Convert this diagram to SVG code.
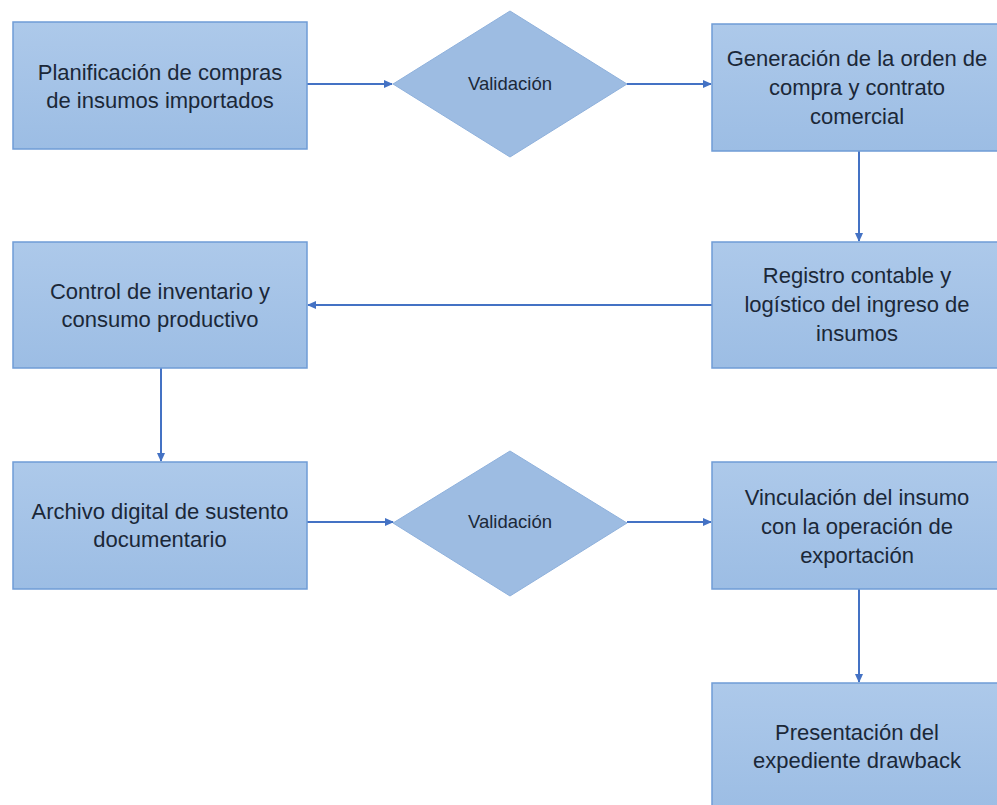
<svg xmlns="http://www.w3.org/2000/svg" width="997" height="805" viewBox="0 0 997 805">
<defs>
<marker id="ah" markerWidth="10" markerHeight="10" refX="8" refY="5" orient="auto" markerUnits="userSpaceOnUse">
<path d="M0,1 L9,5 L0,9 Z" fill="#4472c4"/>
</marker>
<linearGradient id="g" x1="0" y1="0" x2="0" y2="1">
<stop offset="0" stop-color="#adc9ea"/>
<stop offset="1" stop-color="#9cbde4"/>
</linearGradient>
</defs>
<style>
.box{fill:url(#g);stroke:#6f9cd6;stroke-width:1.5}
.dia{fill:#9dbce2;stroke:#8fb1dc;stroke-width:1}
.t{font-family:"Liberation Sans",Arial,sans-serif;font-size:22px;fill:#1b2838;text-anchor:middle}
.ts{font-family:"Liberation Sans",Arial,sans-serif;font-size:18.5px;fill:#1b2838;text-anchor:middle}
.c{stroke:#4472c4;stroke-width:2;fill:none;marker-end:url(#ah)}
</style>
<rect width="997" height="805" fill="#ffffff"/>
<g id="connectors">
<line class="c" x1="307" y1="84" x2="392" y2="84"/>
<line class="c" x1="627" y1="84" x2="711" y2="84"/>
<line class="c" x1="859" y1="151" x2="859" y2="241"/>
<line class="c" x1="712" y1="305" x2="308" y2="305"/>
<line class="c" x1="161" y1="368" x2="161" y2="461"/>
<line class="c" x1="307" y1="522" x2="393" y2="522"/>
<line class="c" x1="627" y1="522" x2="711" y2="522"/>
<line class="c" x1="859" y1="589" x2="859" y2="682"/>
</g>
<g id="n1">
<rect class="box" x="13" y="22" width="294" height="127"/>
<text class="t" x="160" y="80">Planificación de compras</text>
<text class="t" x="160" y="108">de insumos importados</text>
</g>
<g id="d1">
<polygon class="dia" points="510,11 627,84 510,157 393,84"/>
<text class="ts" x="510" y="90">Validación</text>
</g>
<g id="n2">
<rect class="box" x="712" y="24" width="292" height="127"/>
<text class="t" x="857" y="66">Generación de la orden de</text>
<text class="t" x="857" y="95">compra y contrato</text>
<text class="t" x="857" y="124">comercial</text>
</g>
<g id="n3">
<rect class="box" x="712" y="242" width="292" height="126"/>
<text class="t" x="857" y="283">Registro contable y</text>
<text class="t" x="857" y="312">logístico del ingreso de</text>
<text class="t" x="857" y="341">insumos</text>
</g>
<g id="n4">
<rect class="box" x="13" y="242" width="294" height="126"/>
<text class="t" x="160" y="299">Control de inventario y</text>
<text class="t" x="160" y="327">consumo productivo</text>
</g>
<g id="n5">
<rect class="box" x="13" y="462" width="294" height="127"/>
<text class="t" x="160" y="519">Archivo digital de sustento</text>
<text class="t" x="160" y="547">documentario</text>
</g>
<g id="d2">
<polygon class="dia" points="510,451 627,523 510,596 393,523"/>
<text class="ts" x="510" y="528">Validación</text>
</g>
<g id="n6">
<rect class="box" x="712" y="462" width="292" height="127"/>
<text class="t" x="857" y="505">Vinculación del insumo</text>
<text class="t" x="857" y="534">con la operación de</text>
<text class="t" x="857" y="563">exportación</text>
</g>
<g id="n7">
<rect class="box" x="712" y="683" width="292" height="127"/>
<text class="t" x="857" y="740">Presentación del</text>
<text class="t" x="857" y="768">expediente drawback</text>
</g>
</svg>
